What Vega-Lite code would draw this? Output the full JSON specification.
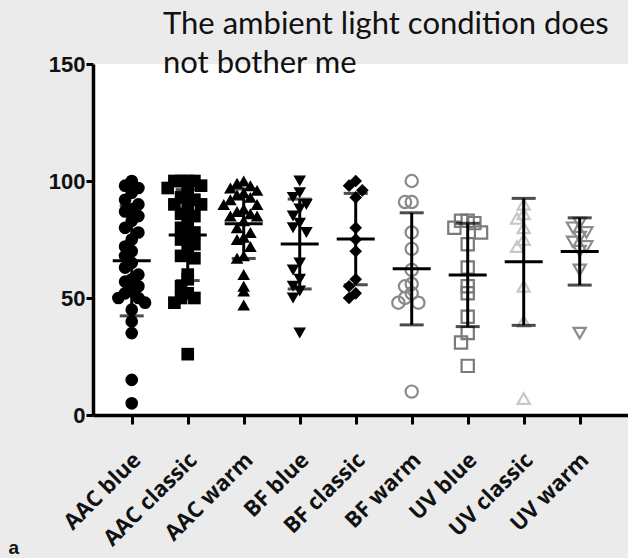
{
  "$schema": "https://vega.github.io/schema/vega-lite/v6.json",
  "width": 535,
  "height": 351,
  "autosize": {"type": "none"},
  "padding": {"left": 93, "top": 64, "right": 0, "bottom": 143},
  "background": "#ebebeb",
  "view": {"fill": "white", "stroke": null},
  "title": {
    "text": ["The ambient light condition does", "not bother me"],
    "anchor": "start",
    "frame": "group",
    "orient": "top",
    "offset": 0,
    "dx": 70,
    "dy": 51,
    "baseline": "alphabetic",
    "lineHeight": 39,
    "font": "Lato",
    "fontSize": 31,
    "fontWeight": "normal",
    "color": "#111"
  },
  "data": {
    "values": [
      {"g": "AAC blue", "v": 100}, {"g": "AAC blue", "v": 98}, {"g": "AAC blue", "v": 97}, {"g": "AAC blue", "v": 95},
      {"g": "AAC blue", "v": 92}, {"g": "AAC blue", "v": 90}, {"g": "AAC blue", "v": 88}, {"g": "AAC blue", "v": 87},
      {"g": "AAC blue", "v": 85}, {"g": "AAC blue", "v": 83}, {"g": "AAC blue", "v": 80}, {"g": "AAC blue", "v": 78},
      {"g": "AAC blue", "v": 75}, {"g": "AAC blue", "v": 72}, {"g": "AAC blue", "v": 70}, {"g": "AAC blue", "v": 68},
      {"g": "AAC blue", "v": 65}, {"g": "AAC blue", "v": 63}, {"g": "AAC blue", "v": 60}, {"g": "AAC blue", "v": 58},
      {"g": "AAC blue", "v": 57}, {"g": "AAC blue", "v": 55}, {"g": "AAC blue", "v": 53}, {"g": "AAC blue", "v": 52},
      {"g": "AAC blue", "v": 50}, {"g": "AAC blue", "v": 50}, {"g": "AAC blue", "v": 48}, {"g": "AAC blue", "v": 45},
      {"g": "AAC blue", "v": 40}, {"g": "AAC blue", "v": 35}, {"g": "AAC blue", "v": 15}, {"g": "AAC blue", "v": 5},
      {"g": "AAC classic", "v": 100}, {"g": "AAC classic", "v": 100}, {"g": "AAC classic", "v": 100}, {"g": "AAC classic", "v": 100},
      {"g": "AAC classic", "v": 98}, {"g": "AAC classic", "v": 97}, {"g": "AAC classic", "v": 95}, {"g": "AAC classic", "v": 93},
      {"g": "AAC classic", "v": 92}, {"g": "AAC classic", "v": 90}, {"g": "AAC classic", "v": 90}, {"g": "AAC classic", "v": 88},
      {"g": "AAC classic", "v": 86}, {"g": "AAC classic", "v": 85}, {"g": "AAC classic", "v": 83}, {"g": "AAC classic", "v": 80},
      {"g": "AAC classic", "v": 78}, {"g": "AAC classic", "v": 76}, {"g": "AAC classic", "v": 75}, {"g": "AAC classic", "v": 73},
      {"g": "AAC classic", "v": 70}, {"g": "AAC classic", "v": 68}, {"g": "AAC classic", "v": 67}, {"g": "AAC classic", "v": 60},
      {"g": "AAC classic", "v": 58}, {"g": "AAC classic", "v": 55}, {"g": "AAC classic", "v": 52}, {"g": "AAC classic", "v": 50},
      {"g": "AAC classic", "v": 50}, {"g": "AAC classic", "v": 48}, {"g": "AAC classic", "v": 26},
      {"g": "AAC warm", "v": 100}, {"g": "AAC warm", "v": 99}, {"g": "AAC warm", "v": 98}, {"g": "AAC warm", "v": 97},
      {"g": "AAC warm", "v": 96}, {"g": "AAC warm", "v": 95}, {"g": "AAC warm", "v": 94}, {"g": "AAC warm", "v": 93},
      {"g": "AAC warm", "v": 92}, {"g": "AAC warm", "v": 90}, {"g": "AAC warm", "v": 90}, {"g": "AAC warm", "v": 88},
      {"g": "AAC warm", "v": 87}, {"g": "AAC warm", "v": 86}, {"g": "AAC warm", "v": 85}, {"g": "AAC warm", "v": 85},
      {"g": "AAC warm", "v": 83}, {"g": "AAC warm", "v": 80}, {"g": "AAC warm", "v": 78}, {"g": "AAC warm", "v": 76},
      {"g": "AAC warm", "v": 75}, {"g": "AAC warm", "v": 72}, {"g": "AAC warm", "v": 68}, {"g": "AAC warm", "v": 67},
      {"g": "AAC warm", "v": 60}, {"g": "AAC warm", "v": 55}, {"g": "AAC warm", "v": 53}, {"g": "AAC warm", "v": 47},
      {"g": "BF blue", "v": 100}, {"g": "BF blue", "v": 95}, {"g": "BF blue", "v": 93}, {"g": "BF blue", "v": 90},
      {"g": "BF blue", "v": 88}, {"g": "BF blue", "v": 85}, {"g": "BF blue", "v": 82}, {"g": "BF blue", "v": 80},
      {"g": "BF blue", "v": 78}, {"g": "BF blue", "v": 65}, {"g": "BF blue", "v": 62}, {"g": "BF blue", "v": 58},
      {"g": "BF blue", "v": 55}, {"g": "BF blue", "v": 53}, {"g": "BF blue", "v": 50}, {"g": "BF blue", "v": 35},
      {"g": "BF classic", "v": 100}, {"g": "BF classic", "v": 98}, {"g": "BF classic", "v": 96}, {"g": "BF classic", "v": 93},
      {"g": "BF classic", "v": 80}, {"g": "BF classic", "v": 75}, {"g": "BF classic", "v": 70}, {"g": "BF classic", "v": 58},
      {"g": "BF classic", "v": 55}, {"g": "BF classic", "v": 52}, {"g": "BF classic", "v": 50},
      {"g": "BF warm", "v": 100}, {"g": "BF warm", "v": 91}, {"g": "BF warm", "v": 91}, {"g": "BF warm", "v": 78},
      {"g": "BF warm", "v": 71}, {"g": "BF warm", "v": 62}, {"g": "BF warm", "v": 56}, {"g": "BF warm", "v": 55},
      {"g": "BF warm", "v": 52}, {"g": "BF warm", "v": 50}, {"g": "BF warm", "v": 48}, {"g": "BF warm", "v": 48},
      {"g": "BF warm", "v": 10},
      {"g": "UV blue", "v": 83}, {"g": "UV blue", "v": 83}, {"g": "UV blue", "v": 82}, {"g": "UV blue", "v": 80},
      {"g": "UV blue", "v": 78}, {"g": "UV blue", "v": 73}, {"g": "UV blue", "v": 63}, {"g": "UV blue", "v": 55},
      {"g": "UV blue", "v": 52}, {"g": "UV blue", "v": 42}, {"g": "UV blue", "v": 35}, {"g": "UV blue", "v": 31},
      {"g": "UV blue", "v": 21},
      {"g": "UV classic", "v": 90}, {"g": "UV classic", "v": 86}, {"g": "UV classic", "v": 84}, {"g": "UV classic", "v": 80},
      {"g": "UV classic", "v": 75}, {"g": "UV classic", "v": 72}, {"g": "UV classic", "v": 55}, {"g": "UV classic", "v": 40},
      {"g": "UV classic", "v": 7},
      {"g": "UV warm", "v": 82}, {"g": "UV warm", "v": 80}, {"g": "UV warm", "v": 78}, {"g": "UV warm", "v": 76},
      {"g": "UV warm", "v": 74}, {"g": "UV warm", "v": 72}, {"g": "UV warm", "v": 70}, {"g": "UV warm", "v": 62},
      {"g": "UV warm", "v": 35}
    ]
  },
  "encoding": {
    "x": {
      "field": "g",
      "type": "nominal",
      "sort": ["AAC blue", "AAC classic", "AAC warm", "BF blue", "BF classic", "BF warm", "UV blue", "UV classic", "UV warm"],
      "scale": {"type": "point", "padding": 0.777, "align": 0.445},
      "axis": {
        "title": "a",
        "titleX": -85,
        "titleY": 138,
        "titleAlign": "left",
        "titleBaseline": "alphabetic",
        "titleFont": "Liberation Sans",
        "titleFontSize": 19,
        "titleFontWeight": "bold",
        "titleColor": "#111",
        "labelAngle": -45,
        "labelAlign": "right",
        "labelBaseline": "middle",
        "labelPadding": 32,
        "labelOffset": 5,
        "labelFont": "Open Sans",
        "labelFontSize": 22,
        "labelFontWeight": "bold",
        "labelColor": "#111",
        "tickSize": 9,
        "tickWidth": 3,
        "tickColor": "black",
        "domainColor": "black",
        "domainWidth": 3.5
      }
    },
    "y": {
      "field": "v",
      "type": "quantitative",
      "scale": {"domain": [0, 150], "nice": false},
      "axis": {
        "title": null,
        "values": [0, 50, 100, 150],
        "grid": false,
        "labelFont": "Liberation Sans",
        "labelFontSize": 22,
        "labelFontWeight": "bold",
        "labelColor": "#111",
        "labelPadding": 1,
        "tickSize": 7,
        "tickWidth": 3,
        "tickColor": "black",
        "domainColor": "black",
        "domainWidth": 3.5
      }
    }
  },
  "layer": [
    {
      "transform": [
        {"filter": {"field": "g", "oneOf": ["AAC blue", "AAC classic", "AAC warm", "BF blue", "BF classic"]}},
        {"bin": {"step": 6}, "field": "v", "as": "vb"},
        {"window": [{"op": "row_number", "as": "k"}], "groupby": ["g", "vb"]}
      ],
      "mark": {"type": "point", "filled": true, "opacity": 1, "size": 160},
      "encoding": {
        "xOffset": {"field": "k", "type": "ordinal", "scale": {"type": "point", "domain": [6, 4, 2, 1, 3, 5, 7], "range": [-20, 20], "padding": 0}},
        "shape": {
          "field": "g", "type": "nominal", "legend": null,
          "scale": {
            "domain": ["AAC blue", "AAC classic", "AAC warm", "BF blue", "BF classic", "BF warm", "UV blue", "UV classic", "UV warm"],
            "range": ["circle", "square", "triangle-up", "triangle-down", "diamond", "circle", "square", "triangle-up", "triangle-down"]
          }
        },
        "color": {
          "field": "g", "type": "nominal", "legend": null,
          "scale": {
            "domain": ["AAC blue", "AAC classic", "AAC warm", "BF blue", "BF classic", "BF warm", "UV blue", "UV classic", "UV warm"],
            "range": ["black", "black", "black", "black", "black", "#8a8a8a", "#7a7a7a", "#c8c8c8", "#8c8c8c"]
          }
        }
      }
    },
    {
      "transform": [
        {"filter": {"field": "g", "oneOf": ["BF warm", "UV blue", "UV classic", "UV warm"]}},
        {"bin": {"step": 6}, "field": "v", "as": "vb"},
        {"window": [{"op": "row_number", "as": "k"}], "groupby": ["g", "vb"]}
      ],
      "mark": {"type": "point", "filled": false, "opacity": 1, "size": 150, "strokeWidth": 2.2},
      "encoding": {
        "xOffset": {"field": "k", "type": "ordinal", "scale": {"type": "point", "domain": [6, 4, 2, 1, 3, 5, 7], "range": [-20, 20], "padding": 0}},
        "shape": {"field": "g", "type": "nominal", "legend": null},
        "color": {"field": "g", "type": "nominal", "legend": null}
      }
    },
    {
      "mark": {
        "type": "errorbar",
        "extent": "stdev",
        "color": "black",
        "rule": {"strokeWidth": 3},
        "ticks": {"size": 24, "thickness": 3, "color": "black"}
      },
      "encoding": {}
    },
    {
      "mark": {"type": "tick", "color": "black", "size": 38, "thickness": 3, "opacity": 1},
      "encoding": {"y": {"field": "v", "type": "quantitative", "aggregate": "mean"}}
    }
  ]
}
